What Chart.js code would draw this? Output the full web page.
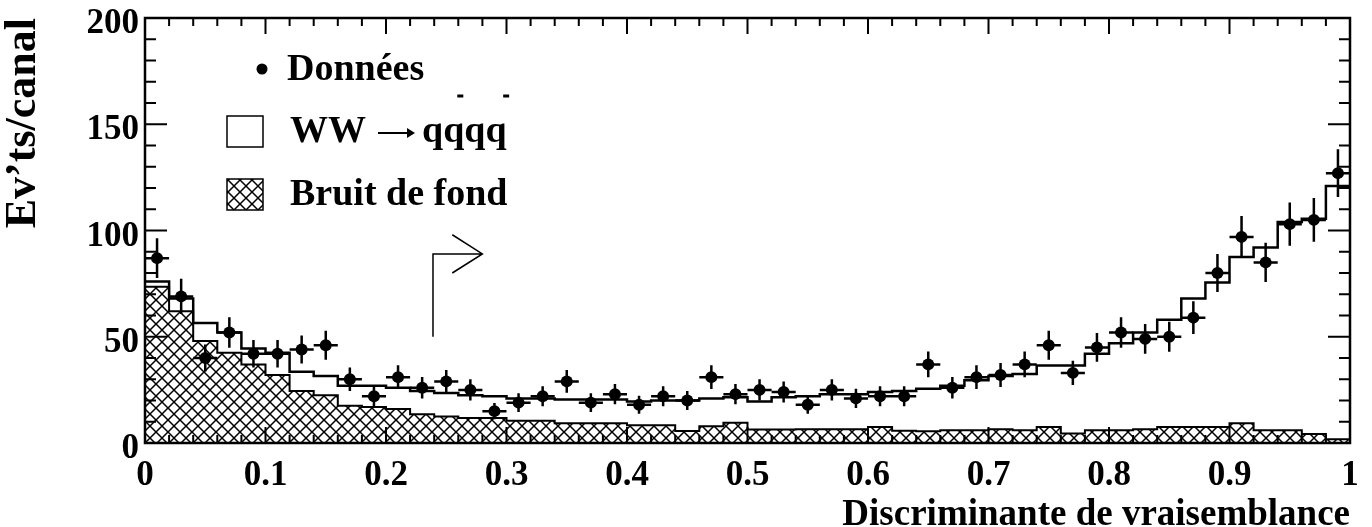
<!DOCTYPE html>
<html>
<head>
<meta charset="utf-8">
<script src="https://cdn.jsdelivr.net/npm/chart.js@4.4.1/dist/chart.umd.min.js"></script>
<style>
  html, body { margin: 0; padding: 0; background: #fff; }
</style>
</head>
<body>
<canvas id="chart" width="1372" height="527"></canvas>
<script>
// Lower edge of each bin on the likelihood discriminant axis (bin width 0.02)
const binLow = [
  0.00, 0.02, 0.04, 0.06, 0.08, 0.10, 0.12, 0.14, 0.16, 0.18,
  0.20, 0.22, 0.24, 0.26, 0.28, 0.30, 0.32, 0.34, 0.36, 0.38,
  0.40, 0.42, 0.44, 0.46, 0.48, 0.50, 0.52, 0.54, 0.56, 0.58,
  0.60, 0.62, 0.64, 0.66, 0.68, 0.70, 0.72, 0.74, 0.76, 0.78,
  0.80, 0.82, 0.84, 0.86, 0.88, 0.90, 0.92, 0.94, 0.96, 0.98
];
const binWidth = 0.02;

// Data (Données), events per bin
const dataCounts = [
  87, 69, 40, 52, 42, 42, 44, 46, 30, 22,
  31, 26, 29, 25, 15, 19, 22, 29, 19, 23,
  18, 22, 20, 31, 23, 25, 24, 18, 25, 21,
  22, 22, 37, 26, 31, 32, 37, 46, 33, 45,
  52, 49, 50, 59, 80, 97, 85, 103, 105, 127
];

// Total expectation: WW -> qqqq signal stacked on background
const totalExpected = [
  76, 68, 56.5, 52, 44.5, 42.5, 33.5, 31.5, 27, 27,
  26, 24.5, 23.5, 22.5, 22, 21, 21, 20.5, 20.5, 20.5,
  19.5, 20, 20, 21, 21.5, 19.5, 21.5, 22, 23, 23,
  24, 24.5, 25.5, 27, 29.5, 31.5, 32.5, 36.5, 36.5, 42,
  47, 52, 58, 68, 75.5, 87.5, 92, 104, 105.5, 121
];

// Background (Bruit de fond)
const background = [
  73.5, 62, 48, 42.5, 37, 32, 24.5, 22.5, 17.5, 17,
  16, 13.5, 12.5, 11.8, 11.8, 10.5, 10.5, 9.3, 9.3, 9.3,
  8.3, 8.3, 5.7, 7.9, 9.5, 6.3, 6.3, 6.5, 6.5, 6.5,
  7.5, 5.8, 5.5, 6, 6, 6.5, 6, 7.5, 4.5, 6,
  6, 6.5, 7.5, 7.5, 7.5, 9.3, 6, 6, 4.2, 1.8
];

const xTickValues = [0, 0.1, 0.2, 0.3, 0.4, 0.5, 0.6, 0.7, 0.8, 0.9, 1];
const xTickLabels = ['0', '0.1', '0.2', '0.3', '0.4', '0.5', '0.6', '0.7', '0.8', '0.9', '1'];
const yTickValues = [0, 50, 100, 150, 200];
const yTickLabels = ['0', '50', '100', '150', '200'];

// Selection cut marker (data coordinates)
const cutX = 0.239;
const cutYLow = 50;
const cutYHigh = 89;
const cutArrowTipX = 0.28;
const cutArrowBackX = 0.255;
const cutArrowSpread = 9;

const SERIF = '"Liberation Serif", "Times New Roman", serif';

// histogram as step line: one point per lower edge, plus the closing edge
function toSteps(values) {
  const pts = binLow.map((x, i) => ({ x: x, y: values[i] }));
  pts.push({ x: binLow[binLow.length - 1] + binWidth, y: values[values.length - 1] });
  return pts;
}

function makeHatch() {
  const size = 12;
  const c = document.createElement('canvas');
  c.width = size;
  c.height = size;
  const g = c.getContext('2d');
  g.strokeStyle = '#000';
  g.lineWidth = 1.5;
  g.beginPath();
  g.moveTo(0, 0); g.lineTo(size, size);
  g.moveTo(size, 0); g.lineTo(0, size);
  g.stroke();
  return g.createPattern(c, 'repeat');
}

const ctx = document.getElementById('chart').getContext('2d');
const hatch = makeHatch();

const dataPoints = binLow.map((x, i) => ({ x: x + binWidth / 2, y: dataCounts[i] }));

// error bars: Poisson sqrt(N) vertically, bin half-width horizontally
const errorBars = {
  id: 'errorBars',
  afterDatasetsDraw(chart) {
    const { ctx, scales: { x, y } } = chart;
    ctx.save();
    ctx.strokeStyle = '#000';
    ctx.lineWidth = 2.5;
    ctx.beginPath();
    dataPoints.forEach(p => {
      const err = Math.sqrt(p.y);
      const px = x.getPixelForValue(p.x);
      const py = y.getPixelForValue(p.y);
      ctx.moveTo(px, y.getPixelForValue(p.y - err));
      ctx.lineTo(px, y.getPixelForValue(p.y + err));
      ctx.moveTo(x.getPixelForValue(p.x - binWidth / 2), py);
      ctx.lineTo(x.getPixelForValue(p.x + binWidth / 2), py);
    });
    ctx.stroke();
    ctx.restore();
  }
};

// frame with inward ticks on all four sides
const frameTicks = {
  id: 'frameTicks',
  afterDatasetsDraw(chart) {
    const { ctx, chartArea: a, scales: { x, y } } = chart;
    ctx.save();
    ctx.strokeStyle = '#000';
    ctx.lineWidth = 2;
    ctx.beginPath();
    for (let k = 0; k <= 50; k++) {
      const px = x.getPixelForValue(k / 50);
      const len = k % 5 === 0 ? 16 : 8;
      ctx.moveTo(px, a.bottom); ctx.lineTo(px, a.bottom - len);
      ctx.moveTo(px, a.top); ctx.lineTo(px, a.top + len);
    }
    for (let k = 0; k <= 20; k++) {
      const py = y.getPixelForValue(k * 10);
      const len = k % 5 === 0 ? 22 : 11;
      ctx.moveTo(a.left, py); ctx.lineTo(a.left + len, py);
      ctx.moveTo(a.right, py); ctx.lineTo(a.right - len, py);
    }
    ctx.stroke();
    ctx.lineWidth = 2.5;
    ctx.strokeRect(a.left, a.top, a.right - a.left, a.bottom - a.top);
    ctx.restore();
  }
};

// cut marker: vertical line with an arrow pointing to the accepted side
const cutMarker = {
  id: 'cutMarker',
  afterDatasetsDraw(chart) {
    const { ctx, scales: { x, y } } = chart;
    const x0 = x.getPixelForValue(cutX);
    const tip = x.getPixelForValue(cutArrowTipX);
    const back = x.getPixelForValue(cutArrowBackX);
    const yTop = y.getPixelForValue(cutYHigh);
    ctx.save();
    ctx.strokeStyle = '#000';
    ctx.lineWidth = 1.5;
    ctx.beginPath();
    ctx.moveTo(x0, y.getPixelForValue(cutYLow));
    ctx.lineTo(x0, yTop);
    ctx.lineTo(tip, yTop);
    ctx.moveTo(back, y.getPixelForValue(cutYHigh + cutArrowSpread));
    ctx.lineTo(tip, yTop);
    ctx.lineTo(back, y.getPixelForValue(cutYHigh - cutArrowSpread));
    ctx.stroke();
    ctx.restore();
  }
};

// legend drawn in the upper left corner of the plot
const legendBox = {
  id: 'legendBox',
  afterDraw(chart) {
    const c = chart.ctx;
    c.save();
    c.fillStyle = '#000';
    c.strokeStyle = '#000';
    c.font = 'bold 38px ' + SERIF;
    c.textBaseline = 'middle';
    c.textAlign = 'left';

    // Données
    c.beginPath();
    c.arc(262, 69, 5.5, 0, Math.PI * 2);
    c.fill();
    c.fillText('Données', 287, 70);

    // WW -> qqqq (open box)
    c.lineWidth = 1.5;
    c.strokeRect(227, 116, 36, 31);
    let xt = 290;
    c.fillText('WW', xt, 132);
    xt += c.measureText('WW').width + 12;
    // arrow: thin shaft with a small head
    const ay = 133;
    c.lineWidth = 2;
    c.beginPath();
    c.moveTo(xt, ay);
    c.lineTo(xt + 34, ay);
    c.stroke();
    c.beginPath();
    c.moveTo(xt + 37, ay);
    c.lineTo(xt + 29, ay - 5);
    c.lineTo(xt + 29, ay + 5);
    c.closePath();
    c.fill();
    xt += 44;
    c.fillText('qqqq', xt, 132);
    const qW = c.measureText('q').width;
    c.lineWidth = 3;
    c.beginPath();
    [2, 4].forEach(n => {
      const xm = xt + qW * (n - 0.5) + 3 + n * 1.8;
      c.moveTo(xm - 3, 96);
      c.lineTo(xm + 3, 96);
    });
    c.stroke();

    // Bruit de fond (hatched box)
    c.fillStyle = '#fff';
    c.fillRect(227, 179, 36, 31);
    c.fillStyle = hatch;
    c.fillRect(227, 179, 36, 31);
    c.lineWidth = 1.5;
    c.strokeRect(227, 179, 36, 31);
    c.fillStyle = '#000';
    c.fillText('Bruit de fond', 290, 195);
    c.restore();
  }
};

const tickFont = { family: SERIF, weight: 'bold', size: 35 };

new Chart(ctx, {
  type: 'line',
  data: {
    datasets: [
      {
        label: 'Bruit de fond',
        data: toSteps(background),
        stepped: 'before',
        borderColor: '#000',
        borderWidth: 2,
        backgroundColor: hatch,
        fill: 'origin',
        pointRadius: 0,
        order: 3
      },
      {
        label: 'WW \u2192 qqqq',
        data: toSteps(totalExpected),
        stepped: 'before',
        borderColor: '#000',
        borderWidth: 2.5,
        fill: false,
        pointRadius: 0,
        order: 2
      },
      {
        label: 'Données',
        data: dataPoints,
        showLine: false,
        pointRadius: 6,
        pointBackgroundColor: '#000',
        pointBorderColor: '#000',
        pointBorderWidth: 0,
        order: 1
      }
    ]
  },
  options: {
    responsive: false,
    animation: false,
    events: [],
    layout: { padding: { top: 18, right: 22, left: 0, bottom: 0 } },
    plugins: {
      legend: { display: false },
      tooltip: { enabled: false }
    },
    scales: {
      x: {
        type: 'linear',
        min: 0,
        max: 1,
        grid: { display: false, drawTicks: false },
        border: { display: false },
        afterBuildTicks: s => { s.ticks = xTickValues.map(v => ({ value: v })); },
        afterFit: s => { s.height = 84; s.paddingLeft = 0; s.paddingRight = 0; },
        ticks: {
          autoSkip: false,
          maxRotation: 0,
          padding: 12,
          color: '#000',
          font: tickFont,
          callback: (v, i) => xTickLabels[i]
        },
        title: {
          display: true,
          text: 'Discriminante de vraisemblance',
          align: 'end',
          color: '#000',
          font: { family: SERIF, weight: 'bold', size: 37, lineHeight: 0.63 },
          padding: 0
        }
      },
      y: {
        min: 0,
        max: 200,
        grid: { display: false, drawTicks: false },
        border: { display: false },
        afterBuildTicks: s => { s.ticks = yTickValues.map(v => ({ value: v })); },
        afterFit: s => { s.width = 145; s.paddingTop = 0; s.paddingBottom = 0; },
        ticks: {
          padding: 6,
          labelOffset: 6,
          color: '#000',
          font: tickFont,
          callback: (v, i) => yTickLabels[i]
        },
        title: {
          display: true,
          text: 'Ev\u2019ts/canal',
          align: 'end',
          color: '#000',
          font: { family: SERIF, weight: 'bold', size: 44, lineHeight: 1 },
          padding: { top: 2, bottom: 0 }
        }
      }
    }
  },
  plugins: [errorBars, cutMarker, frameTicks, legendBox]
});
</script>
</body>
</html>
